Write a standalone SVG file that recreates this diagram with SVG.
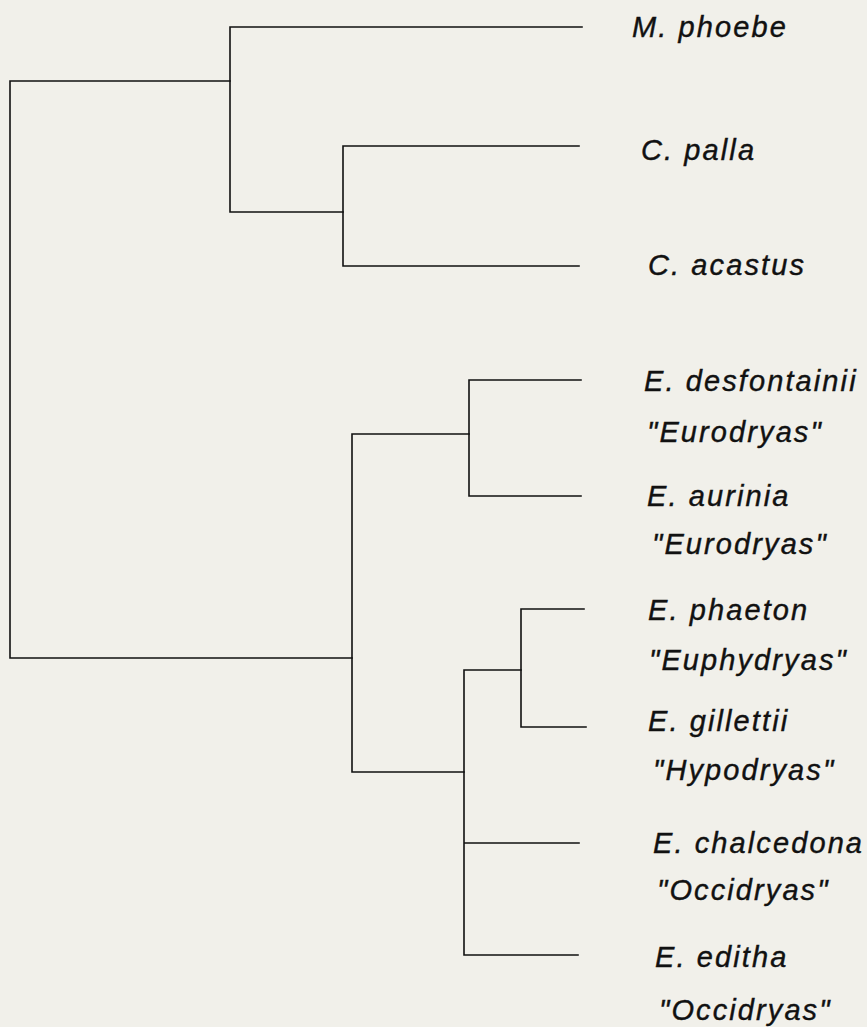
<svg xmlns="http://www.w3.org/2000/svg" width="867" height="1027" viewBox="0 0 867 1027">
<style>
.e{stroke:#111;stroke-width:1.6;fill:none;stroke-linecap:square}
.t{font-family:"Liberation Sans",Arial,sans-serif;font-style:italic;font-size:29px;fill:#111;stroke:#111;stroke-width:0.4;letter-spacing:2.1px}
</style>
<rect width="867" height="1027" fill="#f1f0ea"/>
<g id="connectors">
<path class="e" d="M10,81 V658 M10,81 H230 M10,658 H352"/>
<path class="e" d="M230,27 V212 M230,27 H582 M230,212 H343"/>
<path class="e" d="M343,146 V266 M343,146 H579 M343,266 H579"/>
<path class="e" d="M352,434 V772 M352,434 H469 M352,772 H464"/>
<path class="e" d="M469,380 V496 M469,380 H581 M469,496 H581"/>
<path class="e" d="M464,670 V955 M464,670 H521 M464,843 H579 M464,955 H578"/>
<path class="e" d="M521,609 V727 M521,609 H584 M521,727 H586"/>
</g>
<g id="n-phoebe"><text class="t" x="632" y="37">M. phoebe</text></g>
<g id="n-palla"><text class="t" x="641" y="160">C. palla</text></g>
<g id="n-acastus"><text class="t" x="648" y="275">C. acastus</text></g>
<g id="n-desfontainii"><text class="t" x="644" y="391">E. desfontainii</text><text class="t" x="647" y="442">"Eurodryas"</text></g>
<g id="n-aurinia"><text class="t" x="647" y="506">E. aurinia</text><text class="t" x="652" y="554">"Eurodryas"</text></g>
<g id="n-phaeton"><text class="t" x="648" y="620">E. phaeton</text><text class="t" x="649" y="670">"Euphydryas"</text></g>
<g id="n-gillettii"><text class="t" x="648" y="731">E. gillettii</text><text class="t" x="653" y="780">"Hypodryas"</text></g>
<g id="n-chalcedona"><text class="t" x="653" y="853">E. chalcedona</text><text class="t" x="657" y="900">"Occidryas"</text></g>
<g id="n-editha"><text class="t" x="655" y="967">E. editha</text><text class="t" x="659" y="1020">"Occidryas"</text></g>
</svg>
